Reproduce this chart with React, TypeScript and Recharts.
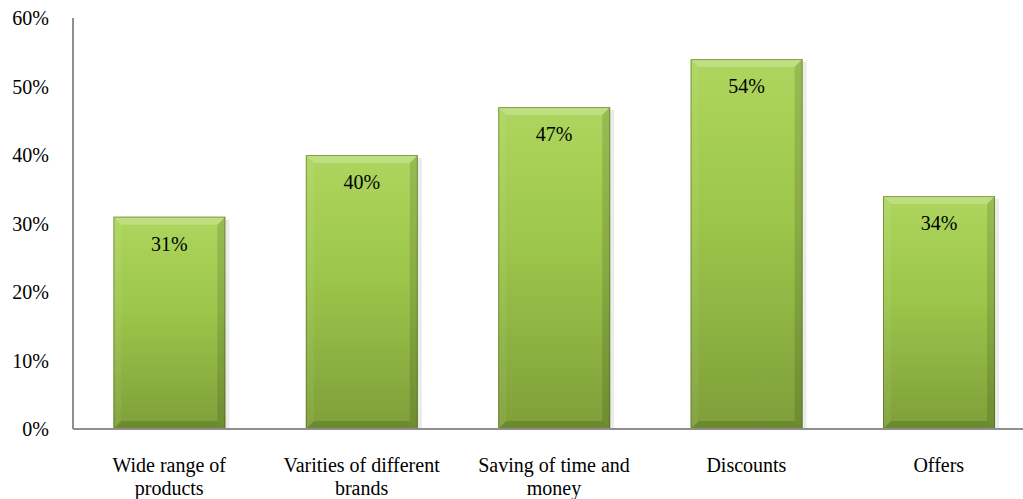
import { BarChart, Bar, XAxis, YAxis, LabelList } from 'recharts';

const CATEGORIES = [
  'Wide range of products',
  'Varities of different brands',
  'Saving of time and money',
  'Discounts',
  'Offers',
];
const SHARES = [31, 40, 47, 54, 34];
const Y_TICKS = [0, 10, 20, 30, 40, 50, 60];

const FONT = "'Liberation Serif', 'Times New Roman', Times, 'DejaVu Serif', serif";
const AXIS_GRAY = '#8f8f8f';

const data = CATEGORIES.map((name, i) => ({ name, share: SHARES[i] }));

// greedy word wrap by character count
function wrap(label: string, maxChars = 21) {
  const lines: string[] = [];
  let cur = '';
  for (const word of label.split(' ')) {
    const next = cur ? `${cur} ${word}` : word;
    if (next.length > maxChars && cur) {
      lines.push(cur);
      cur = word;
    } else {
      cur = next;
    }
  }
  if (cur) lines.push(cur);
  return lines;
}

// bevelled green column with a soft drop shadow on its right side
function BevelBar(props: any) {
  const { x, y, width: w, height: h, index } = props;
  if (!h || h <= 0) return null;
  const b = 8;
  const gid = `barGrad-${index}`;
  return (
    <g>
      <defs>
        <linearGradient id={gid} x1="0" y1="0" x2="0" y2="1">
          <stop offset="0%" stopColor="#aed65e" />
          <stop offset="45%" stopColor="#9cc54b" />
          <stop offset="100%" stopColor="#7e9f39" />
        </linearGradient>
      </defs>
      <rect x={x + w} y={y + 3} width={4} height={h - 3} fill="rgba(0,0,0,0.08)" />
      <rect x={x} y={y} width={w} height={h} fill={`url(#${gid})`} />
      <polygon
        points={`${x},${y} ${x + w},${y} ${x + w - b},${y + b} ${x + b},${y + b}`}
        fill="rgba(255,255,255,0.22)"
      />
      <polygon
        points={`${x},${y} ${x + b},${y + b} ${x + b},${y + h - b} ${x},${y + h}`}
        fill="rgba(255,255,255,0.06)"
      />
      <polygon
        points={`${x + w},${y} ${x + w},${y + h} ${x + w - b},${y + h - b} ${x + w - b},${y + b}`}
        fill="rgba(0,0,0,0.12)"
      />
      <polygon
        points={`${x},${y + h} ${x + w},${y + h} ${x + w - b},${y + h - b} ${x + b},${y + h - b}`}
        fill="rgba(0,0,0,0.14)"
      />
      <rect x={x + 0.5} y={y + 0.5} width={w - 1} height={h - 1} fill="none" stroke="rgba(60,80,20,0.45)" />
    </g>
  );
}

function ValueLabel(props: any) {
  const { x, y, width, value } = props;
  return (
    <text x={x + width / 2} y={y + 34} textAnchor="middle" fontSize={20} fill="#000" fontFamily={FONT}>
      {`${value}%`}
    </text>
  );
}

function CategoryTick(props: any) {
  const { x, y, payload } = props;
  const lines = wrap(String(payload.value));
  return (
    <text x={x} y={y} textAnchor="middle" fontSize={20} fill="#000" fontFamily={FONT}>
      {lines.map((line, i) => (
        <tspan key={i} x={x} dy={i === 0 ? 14 : 22.5}>
          {line}
        </tspan>
      ))}
    </text>
  );
}

function ValueTick(props: any) {
  const { x, y, payload } = props;
  return (
    <text x={x} y={y} dy={7} textAnchor="end" fontSize={20} fill="#000" fontFamily={FONT}>
      {`${payload.value}%`}
    </text>
  );
}

export default function App() {
  return (
    <div
      style={{
        position: 'absolute',
        left: 0,
        top: 0,
        width: 1023,
        height: 499,
        overflow: 'hidden',
        background: '#fff',
      }}
    >
      <BarChart
        width={1040}
        height={499}
        data={data}
        margin={{ top: 18, right: 5, left: 0, bottom: 0 }}
        barCategoryGap="21%"
      >
        <YAxis
          width={73}
          domain={[0, 60]}
          ticks={Y_TICKS}
          interval={0}
          axisLine={{ stroke: AXIS_GRAY, strokeWidth: 2 }}
          tickLine={false}
          tickSize={0}
          tickMargin={24}
          tick={<ValueTick />}
        />
        <XAxis
          dataKey="name"
          height={70}
          interval={0}
          axisLine={{ stroke: AXIS_GRAY, strokeWidth: 2 }}
          tickLine={false}
          tickSize={0}
          tickMargin={29}
          tick={<CategoryTick />}
        />
        <Bar dataKey="share" shape={<BevelBar />} isAnimationActive={false}>
          <LabelList dataKey="share" content={<ValueLabel />} />
        </Bar>
      </BarChart>
    </div>
  );
}
